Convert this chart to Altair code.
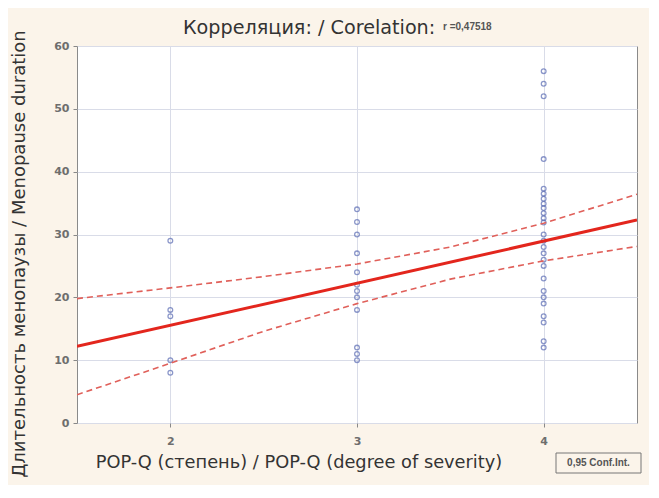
import altair as alt
import pandas as pd

# Scatter data (POP-Q degree vs menopause duration, years)
deg2 = [29, 18, 17, 10, 8]
deg3 = [34, 32, 30, 27, 24, 22, 21, 20, 18, 12, 11, 10]
deg4 = [56, 54, 52, 42, 37.3, 36.5, 35.7, 34.9, 34.2, 33.4, 32.6, 31.9,
        30, 29, 28, 27, 26, 25, 23, 21, 20, 19, 17, 16, 13, 12]

# Fitted line and 0.95 confidence limits
fit_x = [1.5, 4.5]
fit_y = [12.2, 32.3]
ci_x = [1.5, 2.0, 2.5, 3.0, 3.5, 4.0, 4.5]
ci_upper = [19.8, 21.5, 23.3, 25.3, 28.0, 31.8, 36.4]
ci_lower = [4.5, 9.5, 14.6, 19.0, 22.9, 25.8, 28.1]

x_ticks = [2, 3, 4]
y_ticks = [0, 10, 20, 30, 40, 50, 60]

pts = pd.DataFrame({
    "x": [2] * len(deg2) + [3] * len(deg3) + [4] * len(deg4),
    "y": deg2 + deg3 + deg4,
})
fit = pd.DataFrame({"x": fit_x, "y": fit_y})
ci = pd.concat([
    pd.DataFrame({"x": ci_x, "y": ci_upper, "band": "upper"}),
    pd.DataFrame({"x": ci_x, "y": ci_lower, "band": "lower"}),
])

FONT = "DejaVu Sans"
SMALL = "Liberation Sans"
W, H = 560, 377

xs = alt.Scale(domain=[1.5, 4.5], nice=False, zero=False)
ys = alt.Scale(domain=[0, 60], nice=False)

xax = alt.Axis(values=x_ticks, title=None, grid=True, gridColor="#d9dce8",
               labelFont=FONT, labelFontWeight="bold", labelFontSize=11,
               labelColor="#6e6e6e", labelPadding=8, tickSize=4,
               tickColor="#888888", domain=False, format="d")
yax = alt.Axis(values=y_ticks, title=None, grid=True, gridColor="#d9dce8",
               labelFont=FONT, labelFontWeight="bold", labelFontSize=11,
               labelColor="#6e6e6e", labelPadding=4, tickSize=4,
               tickColor="#888888", domain=False)

points = alt.Chart(pts).mark_point(
    shape="circle", filled=False, color="#5b6cb4", size=22, strokeWidth=1.3
).encode(
    x=alt.X("x:Q", scale=xs, axis=xax),
    y=alt.Y("y:Q", scale=ys, axis=yax),
)

ci_lines = alt.Chart(ci).mark_line(
    color="#e0605a", strokeWidth=1.6, strokeDash=[6, 4], clip=True
).encode(
    x=alt.X("x:Q", scale=xs),
    y=alt.Y("y:Q", scale=ys),
    detail="band:N",
)

fit_line = alt.Chart(fit).mark_line(
    color="#e3261d", strokeWidth=3, clip=True
).encode(
    x=alt.X("x:Q", scale=xs),
    y=alt.Y("y:Q", scale=ys),
)

def label(text, x, y, size, font=FONT, weight="normal", color="#333333",
          angle=0, align="left"):
    return alt.Chart(pd.DataFrame({"t": [text]})).mark_text(
        font=font, fontSize=size, fontWeight=weight, color=color,
        angle=angle, align=align, baseline="middle"
    ).encode(text="t:N", x=alt.value(x), y=alt.value(y))

title_main = label("Корреляция: / Corelation:", 106, -18, 19.2)
title_r = label("r =0,47518", 366, -19, 10, font=SMALL, weight="bold", color="#555555")
x_title = label("POP-Q (степень) / POP-Q (degree of severity)", 222, 417, 17.8, align="center")
y_title = label("Длительность менопаузы / Menopause duration", -57, 208, 18,
                angle=270, align="center")

legend_box = alt.Chart(pd.DataFrame({"a": [0]})).mark_rect(
    fill="#fbf4ea", stroke="#777777", strokeWidth=1
).encode(x=alt.value(479), x2=alt.value(564), y=alt.value(407), y2=alt.value(427))
legend_txt = label("0,95 Conf.Int.", 521.5, 417, 10, font=SMALL, weight="bold",
                   color="#555555", align="center")

chart = alt.layer(
    points, ci_lines, fit_line, title_main, title_r, x_title, y_title,
    legend_box, legend_txt
).properties(
    width=W, height=H,
    autosize=alt.AutoSizeParams(type="none"),
    padding={"left": 69, "top": 38, "right": 12, "bottom": 62},
    background="#fbf4ea",
).configure_view(
    fill="white", stroke="#8a8a8a", strokeWidth=1
)

chart.save("out.html", embed_options={"renderer": "svg", "actions": False})
